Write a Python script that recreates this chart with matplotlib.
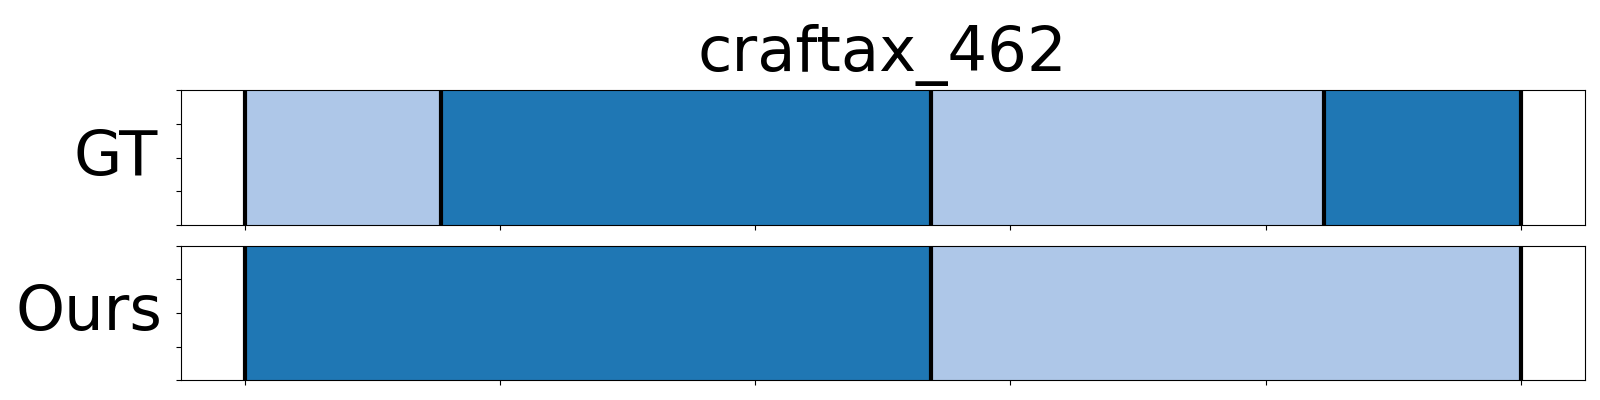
import numpy as np
import matplotlib
matplotlib.use("Agg")
import matplotlib.pyplot as plt

title = "craftax_462"
row_names = ["GT", "Ours"]

# segment boundaries (frames) and segment class per row
gt_bounds = [0, 154, 538, 846, 1000]
gt_labels = [1, 0, 1, 0]
ours_bounds = [0, 538, 1000]
ours_labels = [0, 1]

cmap = plt.get_cmap("tab20")

fig = plt.figure(figsize=(16, 4), dpi=100)
ax_gt = fig.add_axes([0.113, 0.4375, 0.8775, 0.337])
ax_ours = fig.add_axes([0.113, 0.049, 0.8775, 0.337], sharex=ax_gt)

for ax, name, bounds, labels, lx in [(ax_gt, row_names[0], gt_bounds, gt_labels, -0.016),
                                     (ax_ours, row_names[1], ours_bounds, ours_labels, -0.013)]:
    for i in range(len(labels)):
        ax.axvspan(bounds[i], bounds[i + 1], ymin=0, ymax=1, color=cmap(labels[i]), lw=0)
    for b in bounds:
        ax.axvline(b, color="black", lw=3)
    ax.plot([bounds[0], bounds[-1]], [0, 0], alpha=0)
    ax.set_ylim(0, 1)
    ax.set_yticks([0, 0.25, 0.5, 0.75, 1])
    ax.set_yticklabels([])
    ax.set_xticks(np.linspace(bounds[0], bounds[-1], 6))
    ax.tick_params(labelbottom=False)
    ax.set_ylabel(name, rotation=0, fontsize=45, ha="right", va="center")
    ax.yaxis.set_label_coords(lx, 0.5)

ax_gt.margins(x=0.05)
ax_gt.set_title(title, fontsize=45, pad=14)

fig.savefig("out.png", dpi=100)
